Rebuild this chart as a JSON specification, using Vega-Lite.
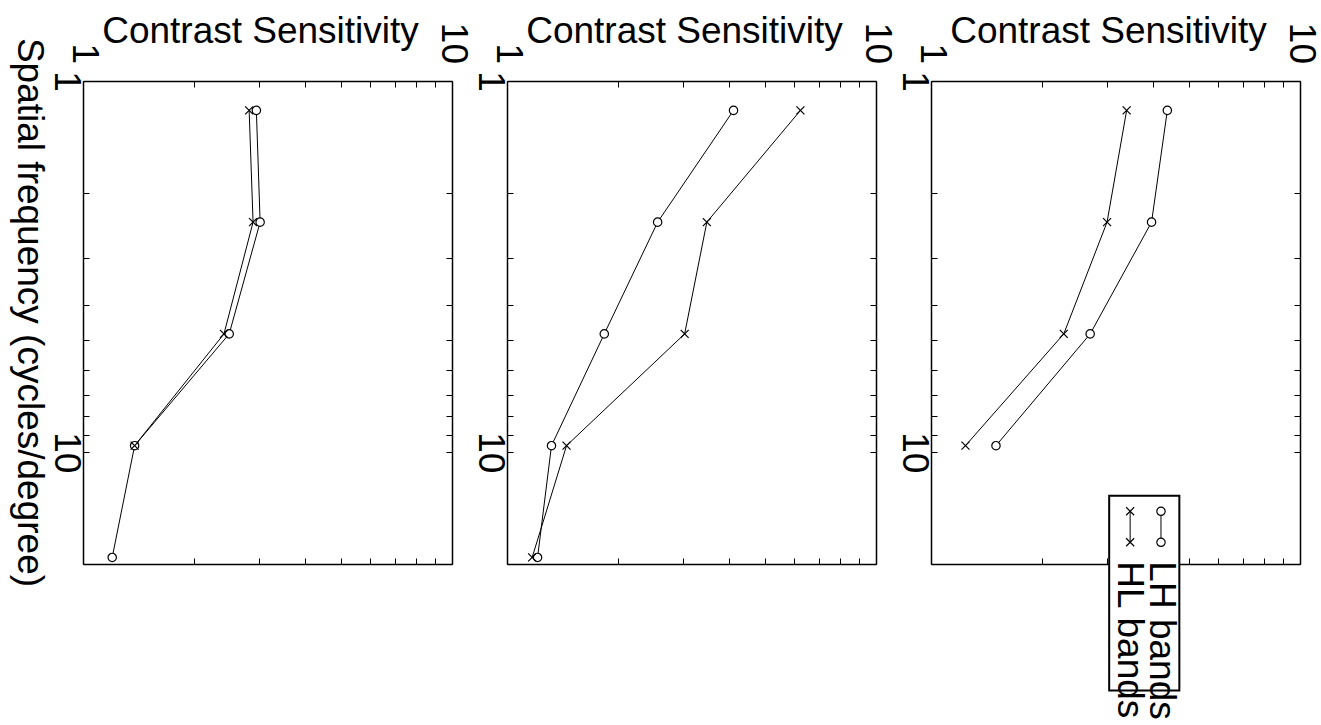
{
  "$schema": "https://vega.github.io/schema/vega-lite/v6.json",
  "background": "white",
  "padding": {"left": 9, "top": 12, "right": 5, "bottom": 5},
  "bounds": "flush",
  "spacing": 55,
  "config": {
    "font": "Liberation Sans",
    "view": {"stroke": null},
    "axis": {
      "grid": false,
      "domainColor": "black",
      "domainWidth": 1.5,
      "tickColor": "black",
      "tickWidth": 1,
      "tickSize": -6,
      "labelFont": "Liberation Sans",
      "labelFontSize": 37,
      "labelColor": "black",
      "labelOverlap": false,
      "labelFlush": false,
      "labelAngle": 90,
      "titleFont": "Liberation Sans",
      "titleFontSize": 37,
      "titleFontWeight": "normal",
      "titleColor": "black"
    }
  },
  "data": {
    "values": [
      {"panel": "A", "series": "LH", "freq": 1.2, "cs": 2.95},
      {"panel": "A", "series": "LH", "freq": 2.4, "cs": 3.02},
      {"panel": "A", "series": "LH", "freq": 4.8, "cs": 2.49},
      {"panel": "A", "series": "LH", "freq": 9.6, "cs": 1.38},
      {"panel": "A", "series": "LH", "freq": 19.2, "cs": 1.2},
      {"panel": "A", "series": "HL", "freq": 1.2, "cs": 2.82},
      {"panel": "A", "series": "HL", "freq": 2.4, "cs": 2.89},
      {"panel": "A", "series": "HL", "freq": 4.8, "cs": 2.41},
      {"panel": "A", "series": "HL", "freq": 9.6, "cs": 1.38},
      {"panel": "B", "series": "LH", "freq": 1.2, "cs": 4.11},
      {"panel": "B", "series": "LH", "freq": 2.4, "cs": 2.56},
      {"panel": "B", "series": "LH", "freq": 4.8, "cs": 1.835},
      {"panel": "B", "series": "LH", "freq": 9.6, "cs": 1.32},
      {"panel": "B", "series": "LH", "freq": 19.2, "cs": 1.21},
      {"panel": "B", "series": "HL", "freq": 1.2, "cs": 6.24},
      {"panel": "B", "series": "HL", "freq": 2.4, "cs": 3.48},
      {"panel": "B", "series": "HL", "freq": 4.8, "cs": 3.03},
      {"panel": "B", "series": "HL", "freq": 9.6, "cs": 1.45},
      {"panel": "B", "series": "HL", "freq": 19.2, "cs": 1.17},
      {"panel": "C", "series": "LH", "freq": 1.2, "cs": 4.37},
      {"panel": "C", "series": "LH", "freq": 2.4, "cs": 3.96},
      {"panel": "C", "series": "LH", "freq": 4.8, "cs": 2.7},
      {"panel": "C", "series": "LH", "freq": 9.6, "cs": 1.5},
      {"panel": "C", "series": "HL", "freq": 1.2, "cs": 3.39},
      {"panel": "C", "series": "HL", "freq": 2.4, "cs": 3.0},
      {"panel": "C", "series": "HL", "freq": 4.8, "cs": 2.29},
      {"panel": "C", "series": "HL", "freq": 9.6, "cs": 1.24}
    ]
  },
  "hconcat": [
    {
      "width": 369,
      "height": 483,
      "transform": [{"filter": "datum.panel == 'A'"}],
      "resolve": {"axis": {"x": "independent", "y": "independent"}},
      "layer": [
        {
          "mark": {"type": "line", "color": "black", "strokeWidth": 1},
          "encoding": {
            "x": {"field": "cs", "type": "quantitative",
              "scale": {"type": "log", "domain": [1, 10], "nice": false},
              "axis": {"orient": "top", "values": [1, 2, 3, 4, 5, 6, 7, 8, 9, 10],
                "labelExpr": "datum.value == 1 || datum.value == 10 ? datum.label : ''",
                "labelAlign": "right", "labelBaseline": "middle", "labelPadding": 23.5,
                "title": "Contrast Sensitivity", "titleX": 177, "titleY": -39, "titleAlign": "center",
                "titleBaseline": "alphabetic", "titleAngle": 0}},
            "y": {"field": "freq", "type": "quantitative",
              "scale": {"type": "log", "domain": [1, 20], "nice": false, "reverse": true},
              "axis": {"orient": "left", "values": [1, 2, 3, 4, 5, 6, 7, 8, 9, 10, 20],
                "labelExpr": "datum.value == 1 || datum.value == 10 ? datum.label : ''",
                "labelAlign": "center", "labelBaseline": "top", "labelPadding": 6,
                "title": "Spatial frequency (cycles/degree)", "titleAngle": 90, "titleX": -66, "titleY": 231,
                "titleAlign": "center", "titleBaseline": "alphabetic"}},
            "detail": {"field": "series"},
            "order": {"field": "freq"}
          }
        },
        {
          "transform": [{"filter": "datum.series == 'LH'"}],
          "mark": {"type": "point", "shape": "circle", "filled": true, "fill": "white", "stroke": "black", "strokeWidth": 1.2, "size": 70, "opacity": 1},
          "encoding": {
            "x": {"field": "cs", "type": "quantitative",
              "axis": {"orient": "bottom", "labels": false, "title": null, "values": [1, 2, 3, 4, 5, 6, 7, 8, 9, 10]}},
            "y": {"field": "freq", "type": "quantitative",
              "axis": {"orient": "right", "labels": false, "title": null, "values": [1, 2, 3, 4, 5, 6, 7, 8, 9, 10, 20]}}
          }
        },
        {
          "transform": [{"filter": "datum.series == 'HL'"}],
          "mark": {"type": "point", "shape": "M-1,-1L1,1M-1,1L1,-1", "filled": false, "stroke": "black", "strokeWidth": 1.2, "size": 64, "opacity": 1},
          "encoding": {
            "x": {"field": "cs", "type": "quantitative", "axis": null},
            "y": {"field": "freq", "type": "quantitative", "axis": null}
          }
        }
      ]
    },
    {
      "width": 369,
      "height": 483,
      "transform": [{"filter": "datum.panel == 'B'"}],
      "resolve": {"axis": {"x": "independent", "y": "independent"}},
      "layer": [
        {
          "mark": {"type": "line", "color": "black", "strokeWidth": 1},
          "encoding": {
            "x": {"field": "cs", "type": "quantitative",
              "scale": {"type": "log", "domain": [1, 10], "nice": false},
              "axis": {"orient": "top", "values": [1, 2, 3, 4, 5, 6, 7, 8, 9, 10],
                "labelExpr": "datum.value == 1 || datum.value == 10 ? datum.label : ''",
                "labelAlign": "right", "labelBaseline": "middle", "labelPadding": 23.5,
                "title": "Contrast Sensitivity", "titleX": 177, "titleY": -39, "titleAlign": "center",
                "titleBaseline": "alphabetic", "titleAngle": 0}},
            "y": {"field": "freq", "type": "quantitative",
              "scale": {"type": "log", "domain": [1, 20], "nice": false, "reverse": true},
              "axis": {"orient": "left", "values": [1, 2, 3, 4, 5, 6, 7, 8, 9, 10, 20],
                "labelExpr": "datum.value == 1 || datum.value == 10 ? datum.label : ''",
                "labelAlign": "center", "labelBaseline": "top", "labelPadding": 6, "title": null}},
            "detail": {"field": "series"},
            "order": {"field": "freq"}
          }
        },
        {
          "transform": [{"filter": "datum.series == 'LH'"}],
          "mark": {"type": "point", "shape": "circle", "filled": true, "fill": "white", "stroke": "black", "strokeWidth": 1.2, "size": 70, "opacity": 1},
          "encoding": {
            "x": {"field": "cs", "type": "quantitative",
              "axis": {"orient": "bottom", "labels": false, "title": null, "values": [1, 2, 3, 4, 5, 6, 7, 8, 9, 10]}},
            "y": {"field": "freq", "type": "quantitative",
              "axis": {"orient": "right", "labels": false, "title": null, "values": [1, 2, 3, 4, 5, 6, 7, 8, 9, 10, 20]}}
          }
        },
        {
          "transform": [{"filter": "datum.series == 'HL'"}],
          "mark": {"type": "point", "shape": "M-1,-1L1,1M-1,1L1,-1", "filled": false, "stroke": "black", "strokeWidth": 1.2, "size": 64, "opacity": 1},
          "encoding": {
            "x": {"field": "cs", "type": "quantitative", "axis": null},
            "y": {"field": "freq", "type": "quantitative", "axis": null}
          }
        }
      ]
    },
    {
      "width": 369,
      "height": 483,
      "transform": [{"filter": "datum.panel == 'C'"}],
      "resolve": {"axis": {"x": "independent", "y": "independent"}},
      "layer": [
        {
          "mark": {"type": "line", "color": "black", "strokeWidth": 1},
          "encoding": {
            "x": {"field": "cs", "type": "quantitative",
              "scale": {"type": "log", "domain": [1, 10], "nice": false},
              "axis": {"orient": "top", "values": [1, 2, 3, 4, 5, 6, 7, 8, 9, 10],
                "labelExpr": "datum.value == 1 || datum.value == 10 ? datum.label : ''",
                "labelAlign": "right", "labelBaseline": "middle", "labelPadding": 23.5,
                "title": "Contrast Sensitivity", "titleX": 177, "titleY": -39, "titleAlign": "center",
                "titleBaseline": "alphabetic", "titleAngle": 0}},
            "y": {"field": "freq", "type": "quantitative",
              "scale": {"type": "log", "domain": [1, 20], "nice": false, "reverse": true},
              "axis": {"orient": "left", "values": [1, 2, 3, 4, 5, 6, 7, 8, 9, 10, 20],
                "labelExpr": "datum.value == 1 || datum.value == 10 ? datum.label : ''",
                "labelAlign": "center", "labelBaseline": "top", "labelPadding": 6, "title": null}},
            "detail": {"field": "series"},
            "order": {"field": "freq"}
          }
        },
        {
          "transform": [{"filter": "datum.series == 'LH'"}],
          "mark": {"type": "point", "shape": "circle", "filled": true, "fill": "white", "stroke": "black", "strokeWidth": 1.2, "size": 70, "opacity": 1},
          "encoding": {
            "x": {"field": "cs", "type": "quantitative",
              "axis": {"orient": "bottom", "labels": false, "title": null, "values": [1, 2, 3, 4, 5, 6, 7, 8, 9, 10]}},
            "y": {"field": "freq", "type": "quantitative",
              "axis": {"orient": "right", "labels": false, "title": null, "values": [1, 2, 3, 4, 5, 6, 7, 8, 9, 10, 20]}}
          }
        },
        {
          "transform": [{"filter": "datum.series == 'HL'"}],
          "mark": {"type": "point", "shape": "M-1,-1L1,1M-1,1L1,-1", "filled": false, "stroke": "black", "strokeWidth": 1.2, "size": 64, "opacity": 1},
          "encoding": {
            "x": {"field": "cs", "type": "quantitative", "axis": null},
            "y": {"field": "freq", "type": "quantitative", "axis": null}
          }
        },
        {
          "data": {"values": [{}]},
          "mark": {"type": "rect", "fill": "white", "stroke": "black", "strokeWidth": 2},
          "encoding": {
            "x": {"datum": 3.04, "type": "quantitative", "axis": null},
            "x2": {"datum": 4.71},
            "y": {"datum": 13.1, "type": "quantitative", "axis": null},
            "y2": {"datum": 43.8}
          }
        },
        {
          "data": {"values": [{}]},
          "mark": {"type": "rule", "color": "black", "strokeWidth": 1},
          "encoding": {
            "x": {"datum": 4.2, "type": "quantitative", "axis": null},
            "y": {"datum": 14.42, "type": "quantitative", "axis": null},
            "y2": {"datum": 17.48}
          }
        },
        {
          "data": {"values": [{}]},
          "mark": {"type": "rule", "color": "black", "strokeWidth": 1},
          "encoding": {
            "x": {"datum": 3.465, "type": "quantitative", "axis": null},
            "y": {"datum": 14.42, "type": "quantitative", "axis": null},
            "y2": {"datum": 17.48}
          }
        },
        {
          "data": {"values": [{}]},
          "mark": {"type": "point", "shape": "circle", "filled": true, "fill": "white", "stroke": "black", "strokeWidth": 1.2, "size": 70, "opacity": 1},
          "encoding": {
            "x": {"datum": 4.2, "type": "quantitative", "axis": null},
            "y": {"datum": 14.42, "type": "quantitative", "axis": null}
          }
        },
        {
          "data": {"values": [{}]},
          "mark": {"type": "point", "shape": "circle", "filled": true, "fill": "white", "stroke": "black", "strokeWidth": 1.2, "size": 70, "opacity": 1},
          "encoding": {
            "x": {"datum": 4.2, "type": "quantitative", "axis": null},
            "y": {"datum": 17.48, "type": "quantitative", "axis": null}
          }
        },
        {
          "data": {"values": [{}]},
          "mark": {"type": "point", "shape": "M-1,-1L1,1M-1,1L1,-1", "filled": false, "stroke": "black", "strokeWidth": 1.2, "size": 64, "opacity": 1},
          "encoding": {
            "x": {"datum": 3.465, "type": "quantitative", "axis": null},
            "y": {"datum": 14.42, "type": "quantitative", "axis": null}
          }
        },
        {
          "data": {"values": [{}]},
          "mark": {"type": "point", "shape": "M-1,-1L1,1M-1,1L1,-1", "filled": false, "stroke": "black", "strokeWidth": 1.2, "size": 64, "opacity": 1},
          "encoding": {
            "x": {"datum": 3.465, "type": "quantitative", "axis": null},
            "y": {"datum": 17.48, "type": "quantitative", "axis": null}
          }
        },
        {
          "data": {"values": [{}]},
          "mark": {"type": "text", "text": "LH bands", "angle": 90, "align": "left", "baseline": "alphabetic", "font": "Liberation Sans", "fontSize": 37, "color": "black"},
          "encoding": {
            "x": {"datum": 3.925, "type": "quantitative", "axis": null},
            "y": {"datum": 19.67, "type": "quantitative", "axis": null}
          }
        },
        {
          "data": {"values": [{}]},
          "mark": {"type": "text", "text": "HL bands", "angle": 90, "align": "left", "baseline": "alphabetic", "font": "Liberation Sans", "fontSize": 37, "color": "black"},
          "encoding": {
            "x": {"datum": 3.22, "type": "quantitative", "axis": null},
            "y": {"datum": 19.67, "type": "quantitative", "axis": null}
          }
        }
      ]
    }
  ]
}
